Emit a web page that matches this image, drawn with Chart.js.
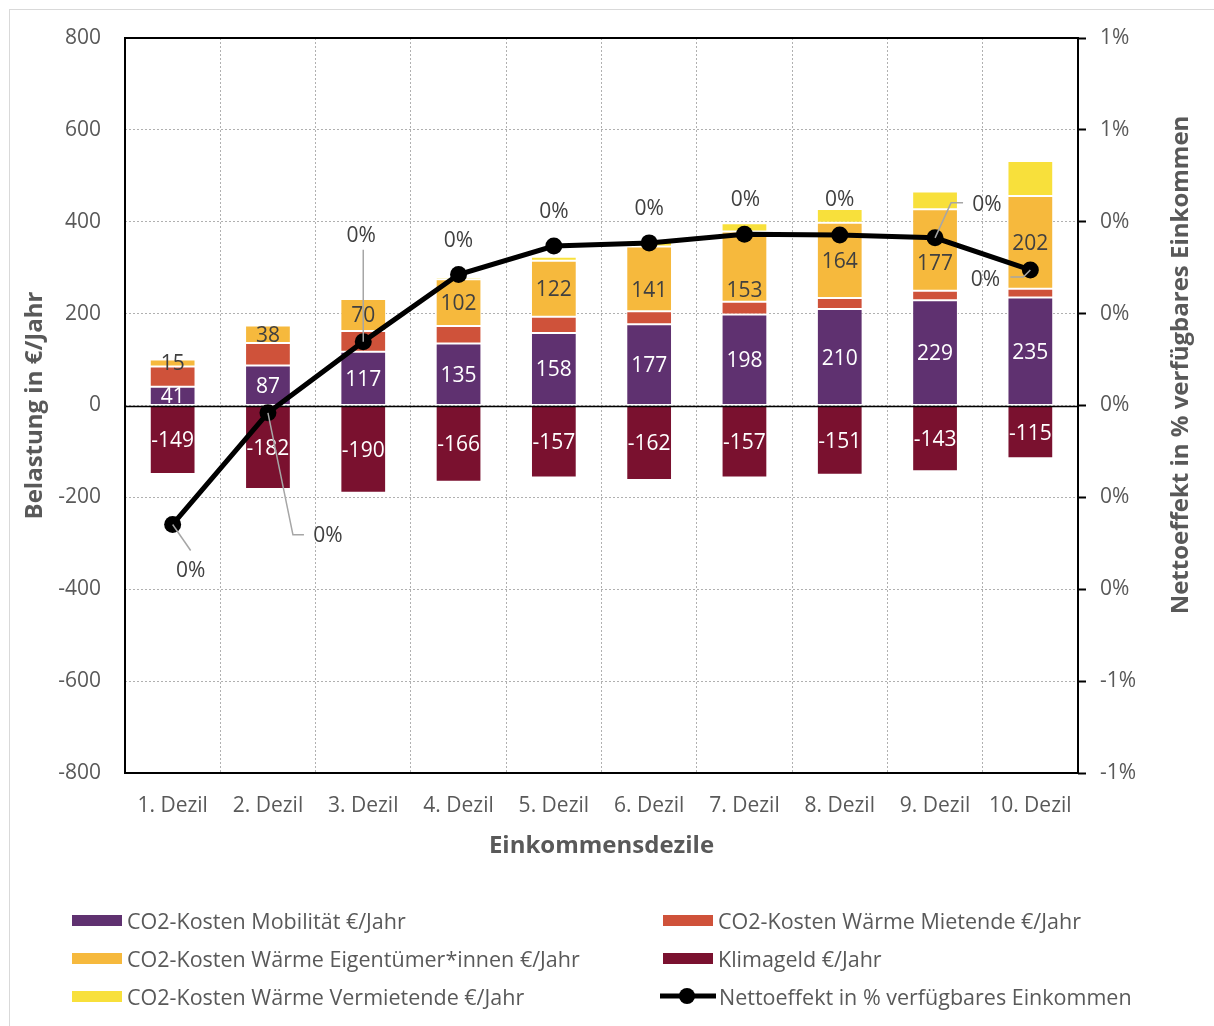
<!DOCTYPE html>
<html>
<head>
<meta charset="utf-8">
<title>CO2-Kosten und Klimageld nach Einkommensdezilen</title>
<script src="https://cdn.jsdelivr.net/npm/chart.js@4.4.1/dist/chart.umd.min.js"></script>
<style>
  html, body { margin: 0; padding: 0; background: #ffffff; }
  #wrap { position: relative; width: 1214px; height: 1026px; overflow: hidden; }
  #frame { position: absolute; left: 9px; top: 9px; width: 1230px; height: 1040px; border: 1px solid #d9d9d9; box-sizing: border-box; }
  #chart { position: absolute; left: 0; top: 0; }
  #legend { position: absolute; left: 0; top: 0; width: 1214px; height: 1026px; pointer-events: none;
            font-family: 'Open Sans', sans-serif; font-size: 21.5px; color: #595959; }
  .item { position: absolute; display: flex; align-items: center; white-space: nowrap; height: 30px; margin-top: -15px; }
  .swatch { width: 50px; height: 11px; margin-right: 5px; flex: none; }
  .lineswatch { width: 56px; height: 20px; margin-right: 3px; flex: none; }
</style>
</head>
<body>
<div id="wrap">
  <div id="frame"></div>
  <canvas id="chart" width="1214" height="1026"></canvas>
  <div id="legend"></div>
</div>
<script>
// Einkommensdezile
const categories = ['1. Dezil', '2. Dezil', '3. Dezil', '4. Dezil', '5. Dezil',
                    '6. Dezil', '7. Dezil', '8. Dezil', '9. Dezil', '10. Dezil'];

// Belastung in €/Jahr je Dezil
const mobilitaet        = [41, 87, 117, 135, 158, 177, 198, 210, 229, 235];
const waermeMietende    = [44, 49, 45, 38, 35, 28, 28, 24, 21, 19];
const waermeEigentuemer = [15, 38, 70, 102, 122, 141, 153, 164, 177, 202];
const klimageld         = [-149, -182, -190, -166, -157, -162, -157, -151, -143, -115];
const waermeVermietende = [3, 1, 3, 5, 9, 13, 18, 30, 39, 76];

// Nettoeffekt in % des verfügbaren Einkommens
const nettoeffekt = [-0.259, -0.016, 0.139, 0.285, 0.347, 0.354, 0.373, 0.371, 0.365, 0.295];

// Achsenbereiche
const leftMin = -800, leftMax = 800, leftStep = 200;
const rightMin = -0.8, rightMax = 0.8, rightStep = 0.2;

const FONT = "'Open Sans', sans-serif";
const TEXT = '#595959';
const LABEL_DARK = '#404040';
const GRID = '#b0b0b0';
const TICK_SIZE = 21;
const VALUE_SIZE = 21;
const TITLE_SIZE = 24;

const COLORS = {
  mobilitaet: '#5f3170',
  mietende: '#cf523a',
  eigentuemer: '#f6b93d',
  klimageld: '#7a112f',
  vermietende: '#f8e03b',
  netto: '#000000'
};

// Platzierung der Prozent-Beschriftungen relativ zum Punkt (px) und Führungslinien
const pctLabelOffset = [[18, 47], [60, 123], [-2, -106], [0, -34], [0, -34],
                        [0, -34], [1, -34], [0, -35], [52, -33], [-45, 10]];
const pctLeader = [[[18, 26]], [[25, 122], [36, 122]], [[0, -92]], null, null,
                   null, null, null, [[16, -35], [28, -35]], [[-7, 7], [-20, 7]]];
// vertikale Verschiebung einzelner Beschriftungen im Eigentümer-Segment (px)
const eigentuemerLabelShift = [0, 0, 0, 0, 0, 11, 23, 0, 13, 0];

const fmtPct = v => (Math.round(v) + 0) + '%';

const datasets = [
  { type: 'bar', label: 'CO2-Kosten Mobilität €/Jahr', data: mobilitaet,
    backgroundColor: COLORS.mobilitaet, valueLabels: { color: '#ffffff' } },
  { type: 'bar', label: 'CO2-Kosten Wärme Mietende €/Jahr', data: waermeMietende,
    backgroundColor: COLORS.mietende },
  { type: 'bar', label: 'CO2-Kosten Wärme Eigentümer*innen €/Jahr', data: waermeEigentuemer,
    backgroundColor: COLORS.eigentuemer, valueLabels: { color: LABEL_DARK, shift: eigentuemerLabelShift } },
  { type: 'bar', label: 'Klimageld €/Jahr', data: klimageld,
    backgroundColor: COLORS.klimageld, valueLabels: { color: '#ffffff' } },
  { type: 'bar', label: 'CO2-Kosten Wärme Vermietende €/Jahr', data: waermeVermietende,
    backgroundColor: COLORS.vermietende },
  { type: 'line', label: 'Nettoeffekt in % verfügbares Einkommen', data: nettoeffekt,
    yAxisID: 'y1', borderColor: COLORS.netto, backgroundColor: COLORS.netto,
    borderWidth: 5, pointRadius: 8.5, pointHoverRadius: 8.5, pointBackgroundColor: COLORS.netto,
    pointBorderWidth: 0, tension: 0, order: 0 }
];
datasets.forEach(ds => {
  if (ds.type === 'bar') {
    Object.assign(ds, { stack: 'belastung', order: 1, borderColor: '#ffffff', borderWidth: 1,
      borderSkipped: false, barPercentage: 0.48, categoryPercentage: 1 });
  }
});

// Rahmen um die Zeichenfläche und Nulllinie, Wertebeschriftungen der Balken
const framePlugin = {
  id: 'frameAndValues',
  beforeDatasetDraw(chart, args) {
    if (args.meta.type !== 'line') return;
    const { ctx, chartArea: a, scales } = chart;
    ctx.save();
    ctx.strokeStyle = '#000000';
    // Nulllinie
    const y0 = Math.round(scales.y.getPixelForValue(0)) + 0.5;
    ctx.lineWidth = 1.5;
    ctx.beginPath(); ctx.moveTo(a.left, y0); ctx.lineTo(a.right, y0); ctx.stroke();
    // Rahmen
    ctx.lineWidth = 2;
    ctx.strokeRect(a.left, a.top, a.right - a.left, a.bottom - a.top);
    // Wertebeschriftungen
    ctx.font = `${VALUE_SIZE}px ${FONT}`;
    ctx.textAlign = 'center';
    ctx.textBaseline = 'middle';
    chart.data.datasets.forEach((ds, di) => {
      if (!ds.valueLabels) return;
      const meta = chart.getDatasetMeta(di);
      ctx.fillStyle = ds.valueLabels.color;
      meta.data.forEach((el, i) => {
        const shift = ds.valueLabels.shift ? ds.valueLabels.shift[i] : 0;
        const cy = (el.y + el.base) / 2 + shift;
        ctx.fillText(String(ds.data[i]), el.x, cy + 1.5);
      });
    });
    ctx.restore();
  },
  afterDatasetsDraw(chart) {
    const { ctx } = chart;
    const di = chart.data.datasets.findIndex(d => d.type === 'line');
    const meta = chart.getDatasetMeta(di);
    const ds = chart.data.datasets[di];
    ctx.save();
    ctx.strokeStyle = '#a6a6a6';
    ctx.lineWidth = 1.5;
    meta.data.forEach((pt, i) => {
      const path = pctLeader[i];
      if (path) {
        ctx.beginPath();
        ctx.moveTo(pt.x, pt.y);
        path.forEach(([dx, dy]) => ctx.lineTo(pt.x + dx, pt.y + dy));
        ctx.stroke();
      }
    });
    ctx.fillStyle = LABEL_DARK;
    ctx.font = `${VALUE_SIZE}px ${FONT}`;
    ctx.textAlign = 'center';
    ctx.textBaseline = 'middle';
    meta.data.forEach((pt, i) => {
      const [dx, dy] = pctLabelOffset[i];
      ctx.fillText(fmtPct(ds.data[i]), pt.x + dx, pt.y + dy);
    });
    // Titel der rechten Achse
    ctx.fillStyle = TEXT;
    ctx.font = `bold ${TITLE_SIZE}px ${FONT}`;
    ctx.translate(1181, 365);
    ctx.rotate(-Math.PI / 2);
    ctx.fillText('Nettoeffekt in % verfügbares Einkommen', 0, 0);
    ctx.restore();
  }
};

const chart = new Chart(document.getElementById('chart'), {
  data: { labels: categories, datasets },
  options: {
    responsive: false,
    animation: false,
    devicePixelRatio: 1,
    layout: { padding: { left: 9, right: 0, top: 38, bottom: 163 } },
    plugins: { legend: { display: false }, tooltip: { enabled: false } },
    scales: {
      x: {
        stacked: true,
        offset: true,
        grid: { offset: true, color: GRID, lineWidth: 1, drawTicks: false },
        border: { display: false, dash: [2, 2] },
        ticks: { color: TEXT, font: { family: FONT, size: TICK_SIZE }, padding: 20 },
        title: { display: true, text: 'Einkommensdezile', color: TEXT,
                 font: { family: FONT, size: TITLE_SIZE, weight: 'bold' }, padding: { top: 0, bottom: 2 } },
        afterFit: s => { s.height = 90; }
      },
      y: {
        stacked: true,
        position: 'left',
        min: leftMin, max: leftMax,
        grid: { color: GRID, lineWidth: 1, drawTicks: false },
        border: { display: false, dash: [2, 2] },
        ticks: { stepSize: leftStep, color: TEXT, font: { family: FONT, size: TICK_SIZE }, padding: 24 },
        title: { display: true, text: 'Belastung in €/Jahr', color: TEXT,
                 font: { family: FONT, size: TITLE_SIZE, weight: 'bold' }, padding: { top: 12, bottom: 0 } },
        afterFit: s => { s.width = 116; }
      },
      y1: {
        position: 'right',
        min: rightMin, max: rightMax,
        grid: { drawOnChartArea: false, drawTicks: true, tickLength: 8, tickColor: '#000000', tickWidth: 2 },
        border: { display: false },
        ticks: { stepSize: rightStep, color: TEXT, font: { family: FONT, size: TICK_SIZE }, padding: 14,
                 callback: v => fmtPct(v * 1) },
        afterFit: s => { s.width = 136; }
      }
    }
  },
  plugins: [framePlugin]
});

// Legende in zwei Spalten
(function buildLegend() {
  const host = document.getElementById('legend');
  const colX = [72, 660];
  const rowY = [920, 958, 996];
  chart.data.datasets.forEach((ds, i) => {
    const item = document.createElement('div');
    item.className = 'item';
    item.style.left = colX[i % 2] + 'px';
    item.style.top = rowY[Math.floor(i / 2)] + 'px';
    let mark;
    if (ds.type === 'line') {
      mark = document.createElementNS('http://www.w3.org/2000/svg', 'svg');
      mark.setAttribute('class', 'lineswatch');
      mark.setAttribute('width', '56');
      mark.setAttribute('height', '20');
      mark.innerHTML = '<line x1="0" y1="10" x2="56" y2="10" stroke="' + ds.borderColor +
        '" stroke-width="5"/><circle cx="27" cy="10" r="8" fill="' + ds.backgroundColor + '"/>';
    } else {
      mark = document.createElement('div');
      mark.className = 'swatch';
      mark.style.background = ds.backgroundColor;
      if (i % 2 === 1) mark.style.marginLeft = '3px';
    }
    const txt = document.createElement('span');
    txt.textContent = ds.label;
    item.appendChild(mark);
    item.appendChild(txt);
    host.appendChild(item);
  });
})();
</script>
</body>
</html>
